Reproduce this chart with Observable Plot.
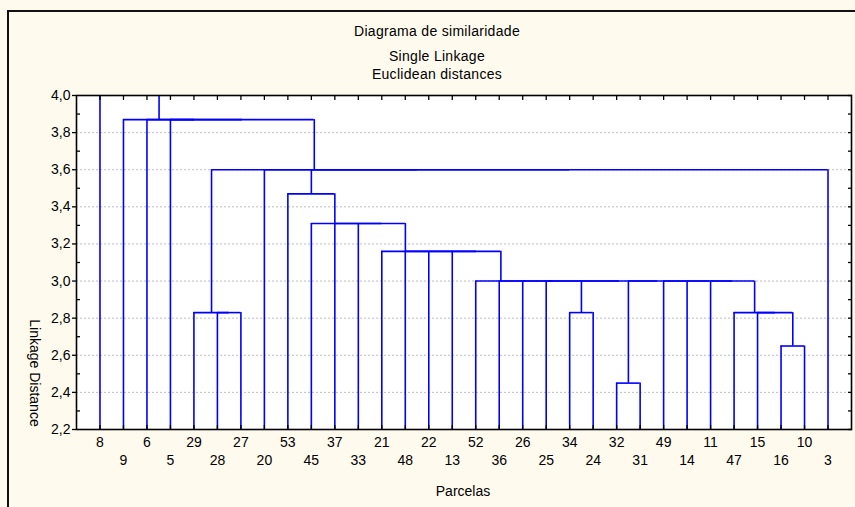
<!DOCTYPE html>
<html><head><meta charset="utf-8">
<script src="https://cdn.jsdelivr.net/npm/d3@7"></script>
<script src="https://cdn.jsdelivr.net/npm/@observablehq/plot@0.6"></script>
<style>
body{margin:0;background:#fffaee;}
#wrap{position:relative;width:855px;height:507px;overflow:hidden;background:#fffaee;font-family:"Liberation Sans",Arial,sans-serif;color:#000;}
#border{position:absolute;left:7px;top:10px;width:900px;height:600px;border:2px solid #111;}
#wrap svg{position:absolute;left:0;top:0;}
.t{position:absolute;left:0;width:874px;text-align:center;font-size:14px;line-height:16px;letter-spacing:0.3px;}
#ylab{position:absolute;left:35px;top:373px;font-size:14px;white-space:nowrap;transform:translate(-50%,-50%) rotate(90deg);}
#xlab{position:absolute;left:463px;top:491px;font-size:14px;white-space:nowrap;transform:translate(-50%,-50%);}
</style></head><body>
<div id="wrap">
<div id="border"></div>
</div>
<script>
const titleLines = ["Diagrama de similaridade", "Single Linkage", "Euclidean distances"];
const yLabel = "Linkage Distance";
const xLabel = "Parcelas";
const leaves = ["8","9","6","5","29","28","27","20","53","45","37","33","21","48","22","13","52","36","26","25","34","24","32","31","49","14","11","47","15","16","10","3"];
const mergeLeft  = ["32","16","28","29","34","15","47","11","14","49","c0","c4","25","26","36","52","13","22","48","21","33","37","45","53","c23","20","c3","5","6","9","8"];
const mergeRight = ["31","10","27","c2","24","c1","c5","c6","c7","c8","c9","c10","c11","c12","c13","c14","c15","c16","c17","c18","c19","c20","c21","c22","3","c24","c25","c26","c27","c28","c29"];
const mergeHeight = [2.45,2.65,2.83,2.83,2.83,2.83,2.83,3.00,3.00,3.00,3.00,3.00,3.00,3.00,3.00,3.00,3.16,3.16,3.16,3.16,3.31,3.31,3.31,3.47,3.60,3.60,3.60,3.87,3.87,3.87,4.10];
const yTicks = [2.2,2.4,2.6,2.8,3.0,3.2,3.4,3.6,3.8,4.0];
const yMinorTicks = [2.3,2.5,2.7,2.9,3.1,3.3,3.5,3.7,3.9];
const gridTicks = [2.4,2.6,2.8,3.0,3.2,3.4,3.6,3.8];

const base = 2.2;
const nodes = new Map(leaves.map((n, i) => [n, {x: i, h: base}]));
const vSeg = [], hSeg = [];
mergeHeight.forEach((h, k) => {
  const a = nodes.get(mergeLeft[k]), b = nodes.get(mergeRight[k]);
  vSeg.push({x: a.x, y1: a.h, y2: h}, {x: b.x, y1: b.h, y2: h});
  hSeg.push({y: h, x1: a.x, x2: b.x});
  nodes.set("c" + k, {x: (a.x + b.x) / 2, h});
});
const leafData = leaves.map((name, i) => ({i, name}));
const fmt = d => d.toFixed(1).replace(".", ",");
const blue = "#0000ff";

const chart = Plot.plot({
  width: 855, height: 507,
  marginLeft: 76, marginRight: 4, marginTop: 95, marginBottom: 78,
  x: {domain: [-1, leaves.length]},
  y: {domain: [2.2, 4.0]},
  style: {background: "transparent", fontFamily: "'Liberation Sans', Arial, sans-serif", fontSize: "14px", color: "#000"},
  marks: [
    Plot.frame({fill: "white", stroke: null}),
    Plot.ruleY(gridTicks, {stroke: "#bdbdbd", strokeDasharray: "2,2", strokeWidth: 1}),
    Plot.ruleX(vSeg, {x: "x", y1: "y1", y2: "y2", stroke: blue, strokeWidth: 1.6, clip: true}),
    Plot.ruleY(hSeg, {y: "y", x1: "x1", x2: "x2", stroke: blue, strokeWidth: 1.6, clip: true}),
    Plot.axisY({anchor: "left", ticks: yTicks, tickFormat: fmt, tickSize: 4, tickPadding: 2, fontSize: 14, label: null, strokeWidth: 1.3}),
    Plot.axisY({anchor: "left", ticks: yMinorTicks, tickFormat: () => "", tickSize: -4, label: null, strokeWidth: 1.3}),
    Plot.axisY({anchor: "right", ticks: yTicks.concat(yMinorTicks), tickFormat: () => "", tickSize: -4, label: null, strokeWidth: 1.3}),
    Plot.axisX({anchor: "top", ticks: d3.range(leaves.length), tickFormat: () => "", tickSize: -4, label: null, strokeWidth: 1.3}),
    Plot.axisX({anchor: "bottom", ticks: d3.range(leaves.length), tickFormat: () => "", tickSize: -4, label: null, strokeWidth: 1.3}),
    Plot.text(leafData.filter(d => d.i % 2 === 0), {x: "i", frameAnchor: "bottom", text: "name", dy: 17, fontSize: 14, fill: "#000"}),
    Plot.text(leafData.filter(d => d.i % 2 === 1), {x: "i", frameAnchor: "bottom", text: "name", dy: 35, fontSize: 14, fill: "#000"}),
    Plot.frame({stroke: "#000", strokeWidth: 1.6})
  ]
});
const wrap = document.getElementById("wrap");
wrap.appendChild(chart);
const tops = [23, 48, 66];
titleLines.forEach((t, i) => {
  const d = document.createElement("div");
  d.className = "t"; d.style.top = tops[i] + "px"; d.textContent = t;
  wrap.appendChild(d);
});
const yl = document.createElement("div"); yl.id = "ylab"; yl.textContent = yLabel; wrap.appendChild(yl);
const xl = document.createElement("div"); xl.id = "xlab"; xl.textContent = xLabel; wrap.appendChild(xl);
</script>
</body></html>
